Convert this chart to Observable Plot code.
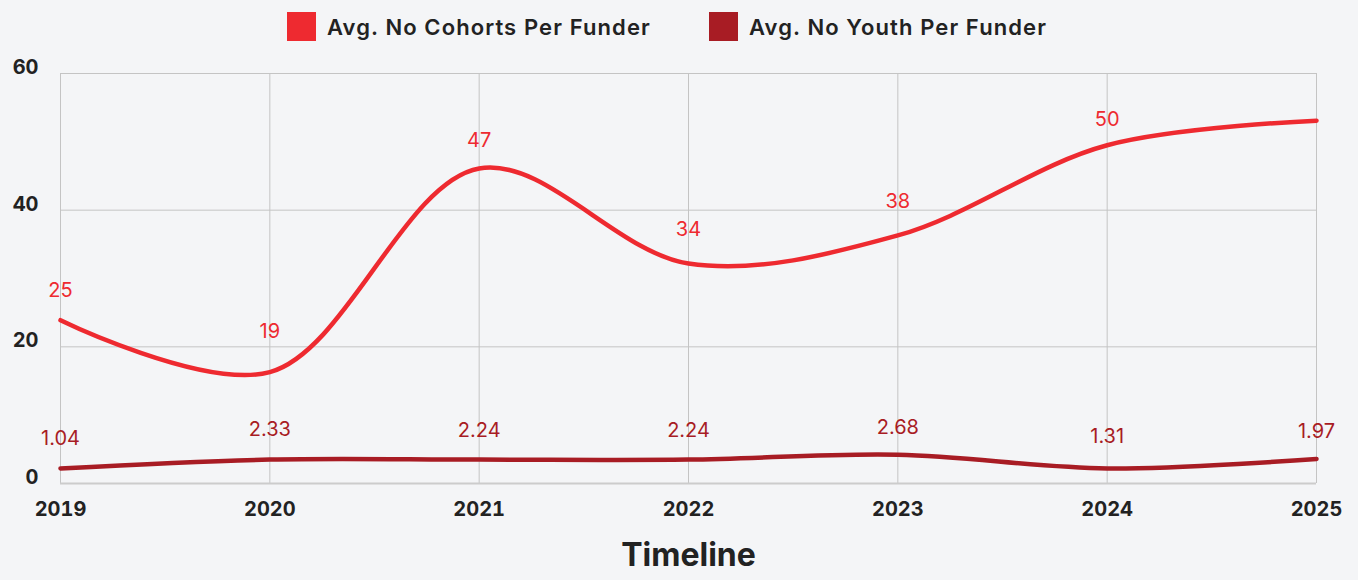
<!DOCTYPE html>
<html>
<head>
<meta charset="utf-8">
<script src="https://cdn.jsdelivr.net/npm/d3@7"></script>
<script src="https://cdn.jsdelivr.net/npm/@observablehq/plot@0.6"></script>
<style>
  html, body { margin: 0; padding: 0; background: #f4f5f7; }
  body { width: 1358px; height: 580px; overflow: hidden; font-family: Inter, "Open Sans", sans-serif; }
  #legend { height: 52px; position: relative; }
  .item { position: absolute; top: 12px; display: flex; align-items: center; font-weight: 600; font-size: 22px; letter-spacing: 1.1px; color: #222; }
  .sw { width: 29px; height: 29px; margin-right: 11px; }
</style>
</head>
<body>
<div id="legend"></div>
<div id="chart"></div>
<script>
const years = [2019, 2020, 2021, 2022, 2023, 2024, 2025];
const cohorts = [23.9, 16.3, 46.1, 32.2, 36.3, 49.5, 53.1];
const youth = [2.2, 3.5, 3.5, 3.5, 4.2, 2.2, 3.6];
const cohortLabels = ["25", "19", "47", "34", "38", "50", null];
const youthLabels = ["1.04", "2.33", "2.24", "2.24", "2.68", "1.31", "1.97"];
const seriesNames = ["Avg. No Cohorts Per Funder", "Avg. No Youth Per Funder"];
const seriesColors = ["#ee2a30", "#a81c24"];
const yTicks = [0, 20, 40, 60];

// legend
const legend = document.getElementById("legend");
const legendX = [287, 709];
seriesNames.forEach((n, i) => {
  const d = document.createElement("div");
  d.className = "item";
  d.style.left = legendX[i] + "px";
  d.innerHTML = `<span class="sw" style="background:${seriesColors[i]}"></span><span>${n}</span>`;
  legend.appendChild(d);
});

const cData = years.map((y, i) => ({year: y, value: cohorts[i], label: cohortLabels[i]}));
const yData = years.map((y, i) => ({year: y, value: youth[i], label: youthLabels[i]}));

const chart = Plot.plot({
  width: 1358,
  height: 528,
  marginTop: 21,
  marginBottom: 97,
  marginLeft: 60,
  marginRight: 42,
  style: {background: "#f4f5f7", fontFamily: "Inter, 'Open Sans', sans-serif", color: "#222"},
  x: {domain: [2019, 2025], ticks: years, tickFormat: "d"},
  y: {domain: [0, 60], ticks: yTicks},
  marks: [
    Plot.gridY(yTicks, {stroke: "#c4c4c4", strokeOpacity: 1, strokeWidth: 1}),
    Plot.gridX(years, {stroke: "#c4c4c4", strokeOpacity: 1, strokeWidth: 1}),
    Plot.ruleY([0], {stroke: "#cccccc", strokeWidth: 2}),
    Plot.axisX({ticks: years, tickFormat: "d", tickSize: 0, tickPadding: 18, fontSize: 20, fontWeight: 700, label: null}),
    Plot.axisY({ticks: yTicks, tickSize: 0, tickPadding: 22, fontSize: 20, fontWeight: 700, label: null, dy: -6}),
    Plot.text(["Timeline"], {frameAnchor: "bottom", dy: 82, fontSize: 32, fontWeight: 700, fill: "#222", letterSpacing: 0.5}),
    Plot.line(cData, {x: "year", y: "value", stroke: seriesColors[0], strokeWidth: 4.5, curve: "catmull-rom"}),
    Plot.line(yData, {x: "year", y: "value", stroke: seriesColors[1], strokeWidth: 4.5, curve: "catmull-rom"}),
    Plot.text(cData.filter(d => d.label), {x: "year", y: d => +d.label, text: "label", dy: -22, fill: seriesColors[0], fontSize: 20, fontWeight: 400}),
    Plot.text(yData, {x: "year", y: d => +d.label, text: "label", dy: -38, fill: seriesColors[1], fontSize: 20, fontWeight: 400})
  ]
});
document.getElementById("chart").appendChild(chart);
</script>
</body>
</html>
